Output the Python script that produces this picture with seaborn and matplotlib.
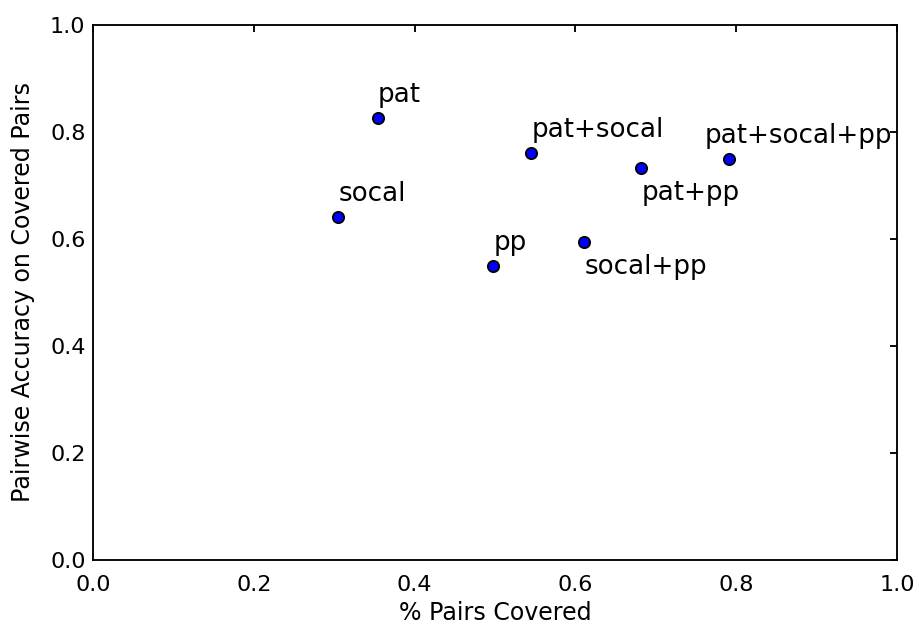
import matplotlib
matplotlib.use("Agg")
import matplotlib.pyplot as plt
import seaborn as sns
import pandas as pd

# ---- data ----
labels = ["pat", "socal", "pp", "pat+socal", "socal+pp", "pat+pp", "pat+socal+pp"]
pairs_covered = [0.354, 0.305, 0.498, 0.545, 0.611, 0.682, 0.791]
accuracy = [0.826, 0.641, 0.550, 0.760, 0.595, 0.733, 0.749]
x_ticks = [0.0, 0.2, 0.4, 0.6, 0.8, 1.0]
y_ticks = [0.0, 0.2, 0.4, 0.6, 0.8, 1.0]

# label placement offsets (data units)
label_offsets = {
    "pat": (0.0, 0.03),
    "socal": (0.0, 0.03),
    "pp": (0.0, 0.03),
    "pat+socal": (0.0, 0.03),
    "socal+pp": (0.0, -0.06),
    "pat+pp": (0.0, -0.06),
    "pat+socal+pp": (-0.03, 0.03),
}

df = pd.DataFrame({"label": labels, "x": pairs_covered, "y": accuracy})

sns.set_style("white")
plt.rcParams["font.family"] = ["DejaVu Sans"]

K = 1.344  # pt scaling
fig = plt.figure(figsize=(9.19, 6.25), dpi=100)
ax = fig.add_axes([93 / 919, 1 - 560 / 625, (897 - 93) / 919, (560 - 25) / 625])

sns.scatterplot(data=df, x="x", y="y", ax=ax, color="#0000ff",
                edgecolor="black", linewidth=1.0 * K, s=(6 * K) ** 2, zorder=3)

for lab, xv, yv in zip(labels, pairs_covered, accuracy):
    dx, dy = label_offsets[lab]
    ax.text(xv + dx, yv + dy, lab, fontsize=14 * K, ha="left", va="baseline",
            color="black")

ax.set_xlim(0, 1)
ax.set_ylim(0, 1)
ax.set_xticks(x_ticks)
ax.set_yticks(y_ticks)
ax.set_xticklabels([f"{t:.1f}" for t in x_ticks])
ax.set_yticklabels([f"{t:.1f}" for t in y_ticks])
ax.tick_params(direction="in", length=4 * K, width=1.0 * K, top=True, right=True,
               labelsize=12 * K, colors="black")
ax.tick_params(axis="y", pad=4 * K)
ax.tick_params(axis="x", pad=7.8 * K)
for sp in ax.spines.values():
    sp.set_visible(True)
    sp.set_linewidth(1.0 * K)
    sp.set_color("black")

ax.set_xlabel("% Pairs Covered", fontsize=12.7 * K, labelpad=3.5 * K, color="black")
ax.set_ylabel("Pairwise Accuracy on Covered Pairs", fontsize=12.7 * K,
              labelpad=8 * K, color="black")

fig.savefig("out.png", dpi=100)
